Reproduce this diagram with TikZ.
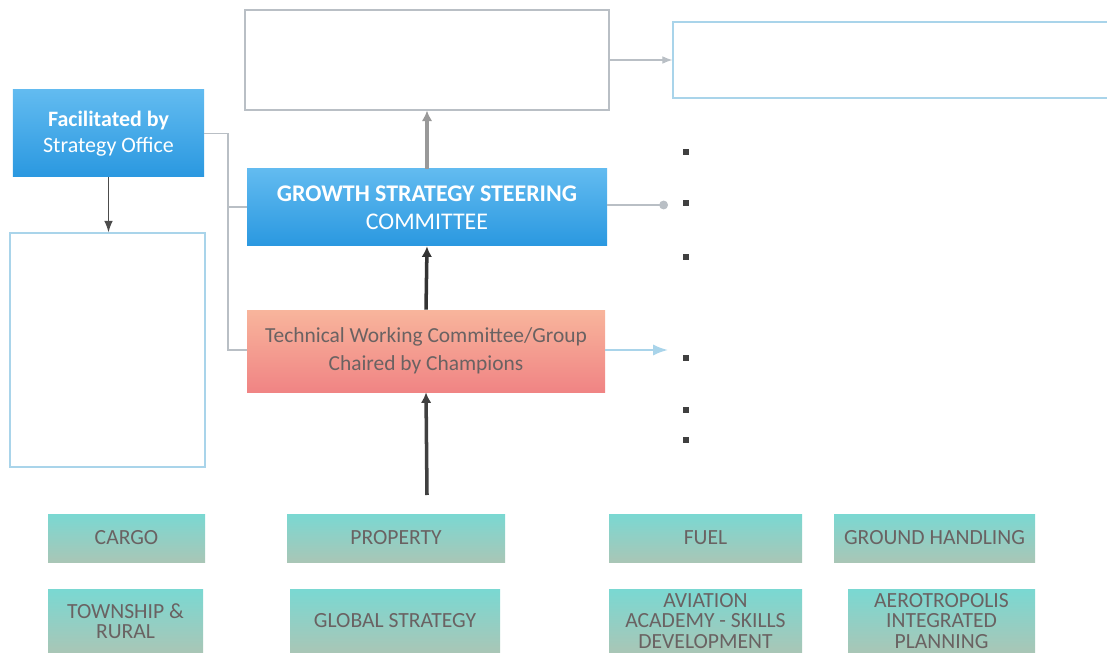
\documentclass[tikz,border=0pt]{standalone}
\usepackage{fontspec}
\setmainfont{Carlito}
\usetikzlibrary{positioning,arrows.meta,calc}
\definecolor{stblue}{HTML}{2A98E0}
\definecolor{stbluelt}{HTML}{62BBF0}
\definecolor{twtop}{HTML}{F8B59C}
\definecolor{twbot}{HTML}{F08484}
\definecolor{tealtop}{HTML}{7AD8D2}
\definecolor{tealbot}{HTML}{A9C6B6}
\definecolor{linegrey}{HTML}{B9BFC5}
\definecolor{lineblue}{HTML}{A9D4EA}
\definecolor{boxtext}{HTML}{6A6262}

\begin{document}
\begin{tikzpicture}[
  blank/.style={draw=#1,line width=0.6pt,fill=white,inner sep=0pt},
  bluebox/.style={top color=stbluelt,bottom color=stblue,text=white,align=center,inner sep=0pt,
    font=\fontsize{12.5}{15}\selectfont},
  twbox/.style={top color=twtop,bottom color=twbot,text=boxtext,align=center,inner sep=0pt,
    minimum width=7.16cm,minimum height=1.64cm,font=\fontsize{12.2}{16}\selectfont},
  unit/.style={top color=tealtop,bottom color=tealbot,text=boxtext,align=center,inner sep=0pt,
    minimum height=0.96cm,font=\fontsize{12.3}{12.5}\selectfont},
  unit2/.style={unit,minimum height=1.26cm,font=\fontsize{12.3}{11.6}\selectfont},
  bullet/.style={fill=black!75,minimum size=0.11cm,inner sep=0pt},
  link/.style={draw=linegrey,line width=0.6pt},
  up/.style={line width=2pt,-{Latex[length=6pt,width=6pt]}},
  >=Latex]

\useasboundingbox (0,0) rectangle (22.14,-13.08);
\clip (0,0) rectangle (22.14,-13.08);

% top level
\node[blank=linegrey,minimum width=7.28cm,minimum height=2.0cm] (top) at (8.54,-1.2) {};
\node[blank=lineblue,minimum width=8.74cm,minimum height=1.52cm] (notes) at (17.83,-1.2) {};

% left column
\node[bluebox,minimum width=3.82cm,minimum height=1.74cm] (facil) at (2.17,-2.67)
  {\textbf{Facilitated by}\\Strategy Office};
\node[blank=lineblue,minimum width=3.9cm,minimum height=4.68cm] (remit) at (2.15,-7.0) {};

% committees
\node[bluebox,minimum width=7.2cm,minimum height=1.54cm,font=\fontsize{13.6}{16}\selectfont] (gssc) at (8.54,-4.15)
  {\textbf{GROWTH STRATEGY STEERING}\\COMMITTEE};
\node[twbox] (twc) at (8.52,-7.02) {Technical Working Committee/Group\\Chaired by Champions};

% business units
\node[unit,minimum width=3.14cm] (cargo) at (2.53,-10.76) {CARGO};
\node[unit,minimum width=4.36cm] (prop) at (7.92,-10.76) {PROPERTY};
\node[unit,minimum width=3.86cm] (fuel) at (14.11,-10.76) {FUEL};
\node[unit,minimum width=4.02cm] (ground) at (18.69,-10.76) {GROUND HANDLING};
\node[unit2,minimum width=3.1cm] (town) at (2.51,-12.42) {TOWNSHIP \&\\RURAL};
\node[unit2,minimum width=4.2cm] (global) at (7.9,-12.42) {GLOBAL STRATEGY};
\node[unit2,minimum width=3.86cm] (avia) at (14.11,-12.42) {AVIATION\\ACADEMY - SKILLS\\DEVELOPMENT};
\node[unit2,minimum width=3.74cm] (aero) at (18.83,-12.42) {AEROTROPOLIS\\INTEGRATED\\PLANNING};

% bullets
\foreach \y [count=\i] in {-3.04,-4.06,-5.14,-7.16,-8.2,-8.8}
  \node[bullet] (b\i) at (13.72,\y) {};

% connectors
\coordinate (bus) at (4.56,-7.0);
\coordinate (feed) at (8.54,-9.9);
\coordinate (gsscend) at (13.36,-4.1);
\coordinate (twcend) at (13.36,-7.0);

\draw[link] (facil.east) -| (bus) -- (bus -| twc.west);
\draw[link] (gssc.west |- 0,-4.14) -- (bus |- 0,-4.14);
\draw[black!70,line width=0.8pt,->] (facil.south) -- (facil.south |- remit.north);
\draw[up,black!40] (gssc.north) -- (top.south);
\draw[up,black!80] (twc.north) -- (gssc.south);
\draw[up,black!75] (feed) -- (twc.south);
\draw[link,->] (top.east) -- (notes.west);
\draw[link,-{Circle[length=5pt]}] (gssc.east |- gsscend) -- (gsscend);
\draw[lineblue,line width=1.2pt,->] (twc.east |- twcend) -- (twcend);
\end{tikzpicture}
\end{document}
